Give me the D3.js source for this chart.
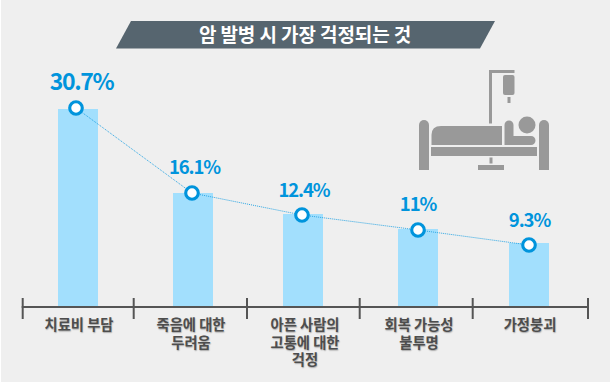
<!DOCTYPE html>
<html><head><meta charset="utf-8">
<script src="https://cdn.jsdelivr.net/npm/d3@7/dist/d3.min.js"></script>
<style>html,body{margin:0;padding:0;background:#fff}svg{display:block}</style>
</head><body><div id="c"></div>
<script>
const categories = ["치료비 부담","죽음에 대한 두려움","아픈 사람의 고통에 대한 걱정","회복 가능성 불투명","가정붕괴"];
const categoryLines = [["치료비 부담"],["죽음에 대한","두려움"],["아픈 사람의","고통에 대한","걱정"],["회복 가능성","불투명"],["가정붕괴"]];
const values = [30.7,16.1,12.4,11,9.3];
const valueLabels = ["30.7%","16.1%","12.4%","11%","9.3%"];
const title = "암 발병 시 가장 걱정되는 것";
const W=610,H=383;
const svg=d3.select("#c").append("svg").attr("width",W).attr("height",H);
const FONT="'Noto Sans CJK KR','Noto Sans',sans-serif";
svg.append("rect").attr("x",1).attr("y",0).attr("width",W-1).attr("height",H-1).attr("fill","#efefef");

// The picture's bars are not linear in the value: polylinear scale through the drawn heights
const y=d3.scaleLinear().domain([0,9.3,11,12.4,16.1,30.7]).range([306.5,243,229,214,193,109]);
const x=d3.scaleOrdinal().domain(categories).range([78,193,303,418,529]);
const tickX=[22.7,133.7,247,359.7,472.7,588];
const barW=40;

// title banner
svg.append("path").attr("d","M131,21L495,21L480,48.5L116,48.5Z").attr("fill","#56656f");
svg.append("text").attr("x",305).attr("y",41.5).attr("text-anchor","middle").attr("fill","#fff")
 .attr("font-family",FONT).attr("font-weight",700).attr("font-size",19).attr("letter-spacing",-0.1).text(title);

// bars
svg.selectAll("rect.bar").data(values).enter().append("rect").attr("class","bar")
 .attr("x",(d,i)=>x(categories[i])-barW/2).attr("width",barW)
 .attr("y",d=>y(d)).attr("height",d=>y(0)-y(d)).attr("fill","#a2dffd");

// axis
const ax=svg.append("g").attr("stroke","#555").attr("stroke-width",2);
ax.append("line").attr("x1",tickX[0]-1).attr("x2",tickX[5]+1).attr("y1",307).attr("y2",307);
ax.selectAll("line.t").data(tickX).enter().append("line").attr("class","t")
 .attr("x1",d=>d).attr("x2",d=>d).attr("y1",298).attr("y2",319);

// labels
const labelDx=[1,-2,2,1,1];
categoryLines.forEach((ls,i)=>{
  const t=svg.append("text").attr("text-anchor","middle").attr("fill","#4d4d4d").attr("font-family",FONT)
    .attr("font-weight",700).attr("font-size",14.3).style("text-shadow","0.5px 1px 1.2px rgba(0,0,0,.3)");
  ls.forEach((l,j)=>{
    t.append("tspan").attr("x",x(categories[i])+labelDx[i]).attr("y",330+j*17.5).text(l);
  });
});

// line + points
const ptDx=[-2,-1,-1,0,0], ptDy=[-1,0,1,1,2];
const px=(d,i)=>x(categories[i])+ptDx[i], py=(d,i)=>y(d)+ptDy[i];
const line=d3.line().x(px).y(py);
svg.append("path").attr("d",line(values)).attr("fill","none").attr("stroke","#2ba6e4")
 .attr("stroke-width",1).attr("stroke-dasharray","1 1");
svg.selectAll("circle.p").data(values).enter().append("circle").attr("class","p")
 .attr("cx",px).attr("cy",py).attr("r",6.3).attr("fill","#fff").attr("stroke","#0094dc").attr("stroke-width",3.1);

// value labels
const lblX=[81.5,194.5,304,418,529.5], lblY=[89.5,174,197,211,227], lblS=[23,18.5,18.5,18.5,18.5], lblL=[-1.4,-1.1,-1.1,-1.1,-1.1];
svg.selectAll("text.v").data(valueLabels).enter().append("text").attr("class","v")
 .attr("x",(d,i)=>lblX[i]).attr("y",(d,i)=>lblY[i]).attr("text-anchor","middle")
 .attr("font-family",FONT).attr("font-weight",700)
 .attr("font-size",(d,i)=>lblS[i]).attr("letter-spacing",(d,i)=>lblL[i]).attr("fill","#0094dc").text(d=>d);

// bed icon
const ic=svg.append("g").attr("fill","#999");
ic.append("path").attr("d","M489,70H514.5V73H492V123.5H489Z");
ic.append("rect").attr("x",503).attr("y",75).attr("width",11.5).attr("height",20).attr("rx",2);
ic.append("rect").attr("x",507.5).attr("y",97).attr("width",3).attr("height",6);
ic.append("path").attr("d","M419,170V125a5,5 0 0 1 10,0V170Z");
ic.append("path").attr("d","M539,170V125a5,5 0 0 1 10,0V170Z");
ic.append("path").attr("d","M431.5,145V135Q431.5,126 441,126H502V145Z");
ic.append("path").attr("d","M504.5,145V125a4.5,4.5 0 0 1 9,0V136H531a4.5,4.5 0 0 1 0,9Z");
ic.append("circle").attr("cx",527).attr("cy",125).attr("r",8.5);
ic.append("rect").attr("x",431).attr("y",147).attr("width",106).attr("height",9);
ic.append("rect").attr("x",489.5).attr("y",157.5).attr("width",3).attr("height",6);
ic.append("rect").attr("x",478).attr("y",165).attr("width",26).attr("height",5);
</script></body></html>
